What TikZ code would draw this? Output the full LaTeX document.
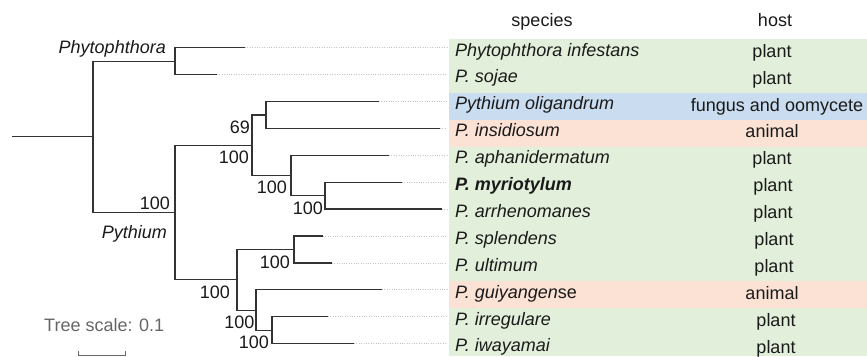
\documentclass[tikz,border=0pt]{standalone}
\usepackage{fontspec}
\setmainfont{Liberation Sans}
\definecolor{bgG}{HTML}{E2EFDA}
\definecolor{bgB}{HTML}{CADDF0}
\definecolor{bgR}{HTML}{FBE2D5}
\definecolor{ink}{HTML}{1A1A1A}
\definecolor{branch}{HTML}{333333}
\definecolor{scalegray}{HTML}{666666}
\begin{document}
\begin{tikzpicture}[x=1pt,y=-1pt,
  br/.style={draw=branch,line width=1.3pt},
  dotline/.style={draw=gray!45,line width=0.7pt,dash pattern=on 0.8pt off 1.6pt},
  txt/.style={inner sep=0pt,text=ink,font=\fontsize{18}{20}\selectfont},
  boot/.style={txt,anchor=base east},
  clade/.style={txt,anchor=base east,font=\fontsize{18}{20}\selectfont\itshape},
  sp/.style={txt,anchor=base west,font=\fontsize{18}{20}\selectfont\itshape},
  hs/.style={txt,anchor=base},
]
\useasboundingbox (0,0) rectangle (867,356);
% colour bands
\fill[bgG] (449,39.3) rectangle (867,93.1);
\fill[bgB] (449,93.1) rectangle (867,120.0);
\fill[bgR] (449,120.0) rectangle (867,146.9);
\fill[bgG] (449,146.9) rectangle (867,281.4);
\fill[bgR] (449,281.4) rectangle (867,308.3);
\fill[bgG] (449,308.3) rectangle (867,356);
% tips
\coordinate (t0) at (245,47.7);
\coordinate (t1) at (217,74.6);
\coordinate (t2) at (379,101.5);
\coordinate (t3) at (440,128.4);
\coordinate (t4) at (389,155.3);
\coordinate (t5) at (401.7,182.2);
\coordinate (t6) at (442,209.1);
\coordinate (t7) at (323,236.0);
\coordinate (t8) at (332,262.9);
\coordinate (t9) at (382,289.8);
\coordinate (t10) at (328,316.7);
\coordinate (t11) at (354,343.6);
% internal nodes
\coordinate (r0) at (12,136.8);
\coordinate (root) at (93,136.8);
\coordinate (phy) at (175,61.15);
\coordinate (pyt) at (175,212.45);
\coordinate (A) at (252,145.2);
\coordinate (B) at (266,114.95);
\coordinate (C) at (291,175.4);
\coordinate (D) at (325,195.65);
\coordinate (E) at (237,279.7);
\coordinate (F) at (294,249.45);
\coordinate (G) at (256,310.2);
\coordinate (H) at (272,330.15);
% dotted leaders
\foreach \k/\y in {0/47.7,1/74.6,2/101.5,3/128.4,4/155.3,5/182.2,6/209.1,7/236.0,8/262.9,9/289.8,10/316.7,11/343.6}{
  \coordinate (e\k) at (447,\y);
  \draw[dotline] (t\k) -- (e\k);
}
% branches
\draw[br] (r0) -- (root);
\draw[br] (root) |- (phy);
\draw[br] (root) |- (pyt);
\draw[br] (phy) |- (t0);
\draw[br] (phy) |- (t1);
\draw[br] (pyt) |- (A);
\draw[br] (pyt) |- (E);
\draw[br] (A) |- (B);
\draw[br] (A) |- (C);
\draw[br] (B) |- (t2);
\draw[br] (B) |- (t3);
\draw[br] (C) |- (t4);
\draw[br] (C) |- (D);
\draw[br] (D) |- (t5);
\draw[br] (D) |- (t6);
\draw[br] (E) |- (F);
\draw[br] (E) |- (G);
\draw[br] (F) |- (t7);
\draw[br] (F) |- (t8);
\draw[br] (G) |- (t9);
\draw[br] (G) |- (H);
\draw[br] (H) |- (t10);
\draw[br] (H) |- (t11);
% clade names and support values
\node[clade] (lphy) at (166,53.3) {Phytophthora};
\node[clade] (lpyt) at (167,238.3) {Pythium};
\node[boot] (bB) at (250,133.1) {69};
\node[boot] (bA) at (249,163.1) {100};
\node[boot] (bC) at (287,193.1) {100};
\node[boot] (bD) at (323,214.4) {100};
\node[boot] (bP) at (170,209.4) {100};
\node[boot] (bF) at (290,268.1) {100};
\node[boot] (bE) at (230,298.1) {100};
\node[boot] (bG) at (254.5,328.1) {100};
\node[boot] (bH) at (269,348.7) {100};
% headers
\node[hs] (hsp) at (542,26) {species};
\node[hs] (hho) at (775,26) {host};
% species
\node[sp] (s0) at (455,56.0) {Phytophthora infestans};
\node[sp] (s1) at (455,82.9) {P. sojae};
\node[sp] (s2) at (455,109.8) {Pythium oligandrum};
\node[sp] (s3) at (455,136.7) {P. insidiosum};
\node[sp] (s4) at (455,163.6) {P. aphanidermatum};
\node[sp,font=\fontsize{18}{20}\selectfont\bfseries\itshape] (s5) at (455,190.5) {P. myriotylum};
\node[sp] (s6) at (455,217.4) {P. arrhenomanes};
\node[sp] (s7) at (455,244.3) {P. splendens};
\node[sp] (s8) at (455,271.2) {P. ultimum};
\node[sp] (s9) at (455,298.1) {P. guiyangen\upshape se};
\node[sp] (s10) at (455,325.0) {P. irregulare};
\node[sp] (s11) at (455,351.9) {P. iwayamai};
% hosts
\node[hs] (h0) at (772,57.2) {plant};
\node[hs] (h1) at (772,84.1) {plant};
\node[hs] (h2) at (777,111.0) {fungus and oomycete};
\node[hs] (h3) at (772,137.9) {animal};
\node[hs] (h4) at (772,164.8) {plant};
\node[hs] (h5) at (773,191.7) {plant};
\node[hs] (h6) at (773,218.6) {plant};
\node[hs] (h7) at (774,245.5) {plant};
\node[hs] (h8) at (774,272.4) {plant};
\node[hs] (h9) at (772,299.3) {animal};
\node[hs] (h10) at (776,326.2) {plant};
\node[hs] (h11) at (776,353.1) {plant};
% tree scale
\node[txt,anchor=base west,text=scalegray] (ts) at (44,331.7) {Tree scale: 0.1};
\coordinate (sb1) at (78,351);
\coordinate (sb2) at (78,355);
\coordinate (sb3) at (125,355);
\coordinate (sb4) at (125,351);
\draw[scalegray,line width=1pt] (sb1) -- (sb2) -- (sb3) -- (sb4);
\end{tikzpicture}
\end{document}
